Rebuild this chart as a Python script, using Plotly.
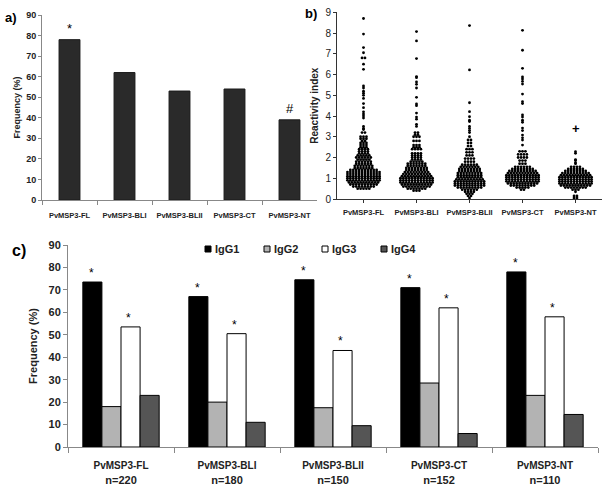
import plotly.graph_objects as go

W, H = 602, 488

# ---- data ----
antigens = ['PvMSP3-FL', 'PvMSP3-BLI', 'PvMSP3-BLII', 'PvMSP3-CT', 'PvMSP3-NT']

# a) total IgG frequency (%)
freq_total = [78, 62, 53, 54, 39]
freq_marks = ['*', '', '', '', '#']

# b) reactivity index: row value and number of dots on that row
fl_y = [0.5, 0.6, 0.7, 0.8, 0.9, 1.0, 1.1, 1.2, 1.3, 1.4, 1.5, 1.6, 1.7, 1.8, 1.9, 2.0, 2.1,
        2.2, 2.3, 2.4, 2.5, 2.6, 2.7, 2.8, 2.9, 3.0, 3.2, 3.35, 3.4, 3.5, 3.9, 4.0, 4.1, 4.2,
        4.4, 4.6, 4.85, 5.0, 5.1, 5.2, 5.35, 5.45, 6.25, 6.5, 6.8, 7.05, 7.3, 7.95, 8.7]
fl_n = [5, 8, 10, 11, 12, 12, 12, 12, 12, 10, 7, 7, 6, 6, 5, 6, 5,
        4, 4, 4, 3, 3, 3, 2, 3, 3, 2, 1, 1, 1, 1, 1, 1, 1,
        1, 1, 1, 1, 1, 1, 1, 1, 1, 1, 2, 1, 1, 1, 1]

bli_y = [0.4, 0.5, 0.6, 0.7, 0.8, 0.9, 1.0, 1.1, 1.2, 1.3, 1.4, 1.5, 1.6, 1.7, 1.8, 1.9, 2.0,
         2.1, 2.2, 2.4, 2.5, 2.6, 2.8, 3.0, 3.1, 3.2, 3.5, 3.6, 3.85, 3.95, 4.14, 4.5, 4.58,
         4.9, 5.35, 5.53, 5.64, 5.85, 5.9, 6.77, 7.62, 8.07]
bli_n = [3, 7, 10, 11, 12, 12, 12, 11, 10, 9, 8, 8, 7, 7, 5, 4, 4,
         4, 4, 4, 3, 3, 3, 3, 2, 2, 1, 1, 1, 1, 1, 1, 1,
         1, 1, 1, 1, 1, 1, 1, 1, 1]

blii_y = [0.05, 0.15, 0.25, 0.35, 0.45, 0.55, 0.65, 0.75, 0.85, 0.95, 1.05, 1.15, 1.25, 1.35,
          1.45, 1.55, 1.65, 1.8, 1.95, 2.1, 2.25, 2.4, 2.55, 2.7, 2.85, 3.0, 3.2, 3.3, 3.4,
          3.5, 3.73, 3.8, 3.97, 4.21, 4.64, 6.22, 8.36]
blii_n = [1, 2, 3, 4, 6, 9, 11, 11, 11, 10, 9, 9, 9, 8,
          8, 7, 6, 4, 4, 3, 3, 3, 2, 2, 2, 1, 1, 1, 1,
          1, 1, 1, 1, 1, 1, 1, 1]

ct_y = [0.45, 0.55, 0.65, 0.75, 0.85, 0.95, 1.05, 1.15, 1.25, 1.35, 1.45, 1.55, 1.7, 1.85,
        2.0, 2.15, 2.3, 2.6, 2.84, 2.95, 3.08, 3.3, 3.42, 3.7, 3.8, 3.95, 4.05, 4.6, 4.69,
        5.06, 5.54, 5.67, 5.79, 5.88, 6.3, 7.17, 8.13]
ct_n = [2, 5, 9, 11, 12, 12, 12, 12, 11, 10, 8, 6, 3, 3,
        4, 4, 3, 1, 1, 1, 1, 1, 1, 1, 1, 1, 1, 1, 1,
        1, 1, 1, 1, 1, 1, 1, 1]

nt_y = [0.05, 0.15, 0.35, 0.45, 0.55, 0.65, 0.75, 0.85, 0.95, 1.05, 1.15, 1.25, 1.35, 1.45,
        1.55, 1.7, 1.75, 1.85, 1.9, 2.2, 2.28]
nt_n = [2, 2, 1, 3, 8, 11, 12, 12, 12, 12, 11, 10, 8, 6,
        4, 1, 1, 1, 1, 1, 1]
nt_mark_y = 3.4

# c) IgG subclass frequency (%)
sample_sizes = [220, 180, 150, 152, 110]
subclasses = ['IgG1', 'IgG2', 'IgG3', 'IgG4']
igg1 = [73.5, 67, 74.5, 71, 78]
igg2 = [18, 20, 17.5, 28.5, 23]
igg3 = [53.5, 50.5, 43, 62, 58]
igg4 = [23, 11, 9.5, 6, 14.5]
sub_colors = ['black', '#b3b3b3', 'white', '#555555']


def py(p):
    return 1 - p / H


def swarm(center, ys, ns, step=0.055):
    xs, yv = [], []
    for y, n in zip(ys, ns):
        for i in range(n):
            xs.append(center + (i - (n - 1) / 2) * step)
            yv.append(y)
    return xs, yv


fig = go.Figure()

# a)
fig.add_trace(go.Bar(x=antigens, y=freq_total, marker_color='#2a2a2a',
                     marker_line=dict(color='#1a1a1a', width=1), width=0.38,
                     xaxis='x', yaxis='y', showlegend=False))

# b)
groups = [(fl_y, fl_n), (bli_y, bli_n), (blii_y, blii_n), (ct_y, ct_n), (nt_y, nt_n)]
for k, (ys, ns) in enumerate(groups):
    xs, yv = swarm(k, ys, ns)
    fig.add_trace(go.Scatter(x=xs, y=yv, mode='markers',
                             marker=dict(color='black', size=2.8),
                             xaxis='x2', yaxis='y2', showlegend=False))

# c)
labels_c = [f'<span style="font-size:10px">{a}</span><br>n={n}'
            for a, n in zip(antigens, sample_sizes)]
for name, vals, col in zip(subclasses, [igg1, igg2, igg3, igg4], sub_colors):
    fig.add_trace(go.Bar(x=labels_c, y=vals, name=name, marker_color=col,
                         marker_line=dict(color='black', width=1),
                         xaxis='x3', yaxis='y3', showlegend=False))

ann = []
shapes = []
for a, v, m in zip(antigens, freq_total, freq_marks):
    if m:
        ann.append(dict(x=a, y=v, xref='x', yref='y', text=m, showarrow=False,
                        yanchor='bottom', yshift=2, font=dict(size=13, color='black')))
ann.append(dict(x=4, y=nt_mark_y, xref='x2', yref='y2', text='<b>+</b>', showarrow=False,
                font=dict(size=13, color='black')))
for lab, v1, v3 in zip(labels_c, igg1, igg3):
    ann.append(dict(x=lab, y=v1, xref='x3', yref='y3', text='*', showarrow=False,
                    yanchor='bottom', yshift=0, xshift=-30, font=dict(size=12, color='black')))
    ann.append(dict(x=lab, y=v3, xref='x3', yref='y3', text='*', showarrow=False,
                    yanchor='bottom', yshift=0, xshift=7, font=dict(size=12, color='black')))
for t, x, y, s in [('a)', 3, 8, 13), ('b)', 303, 4, 13), ('c)', 10, 240, 16)]:
    ann.append(dict(x=x / W, y=py(y), xref='paper', yref='paper', text=f'<b>{t}</b>',
                    showarrow=False, xanchor='left', yanchor='top',
                    font=dict(size=s, color='black')))

# legend of panel c, drawn as small boxes + labels
for name, col, bx in zip(subclasses, sub_colors, [205, 264, 322, 381]):
    shapes.append(dict(type='rect', xref='paper', yref='paper',
                       x0=bx / W, x1=(bx + 6) / W, y0=py(252), y1=py(246),
                       fillcolor=col, line=dict(color='black', width=1)))
    ann.append(dict(x=(bx + 8) / W, y=py(249), xref='paper', yref='paper',
                    text=f'<b>{name}</b>', showarrow=False, xanchor='left', yanchor='middle',
                    font=dict(family='Arial', size=11, color='#222')))

fig.update_layout(
    width=W, height=H, margin=dict(l=0, r=0, t=0, b=0, autoexpand=False),
    paper_bgcolor='white', plot_bgcolor='white',
    font=dict(family='Arial', color='#222'),
    barmode='group', bargap=0.28, bargroupgap=0,
    xaxis=dict(domain=[42 / W, 317 / W], anchor='y', showline=True, linecolor='#888',
               ticks='outside', tickson='boundaries', ticklen=4, tickcolor='#888',
               tickangle=0, automargin=False, ticklabelstandoff=8,
               tickfont=dict(family='Arial', size=7.5, color='#222', weight='bold'),
               showgrid=False),
    yaxis=dict(domain=[py(200), py(15)], anchor='x', range=[0, 90], dtick=10,
               showline=True, linecolor='#888', ticks='outside', ticklen=3, tickcolor='#888',
               automargin=False,
               tickfont=dict(family='Arial', size=9, color='#222', weight='bold'),
               showgrid=False,
               title=dict(text='<b>Frequency (%)</b>', font=dict(size=9), standoff=4)),
    xaxis2=dict(domain=[337 / W, 1.0], anchor='y2', range=[-0.5, 4.5],
                tickvals=list(range(5)), ticktext=antigens, showline=True, linecolor='#333',
                ticks='outside', ticklen=3, tickcolor='#333', zeroline=False,
                tickangle=0, automargin=False, ticklabelstandoff=3,
                tickfont=dict(family='Arial', size=7.5, color='#222', weight='bold'),
                showgrid=False),
    yaxis2=dict(domain=[py(199), py(12.3)], anchor='x2', range=[0, 9], dtick=1,
                showline=True, linecolor='#333', ticks='outside', ticklen=3, tickcolor='#333',
                zeroline=False, automargin=False,
                tickfont=dict(family='Arial', size=10, color='#222'),
                showgrid=False,
                title=dict(text='<b>Reactivity index</b>', font=dict(size=10), standoff=4)),
    xaxis3=dict(domain=[68 / W, 598 / W], anchor='y3', showline=True, linecolor='#888',
                ticks='outside', tickson='boundaries', ticklen=5, tickcolor='#888',
                tickangle=0, automargin=False, ticklabelstandoff=8,
                tickfont=dict(family='Arial', size=11, color='#222', weight='bold'),
                showgrid=False),
    yaxis3=dict(domain=[py(447), py(245)], anchor='x3', range=[0, 90], dtick=10,
                showline=True, linecolor='#888', ticks='outside', ticklen=4, tickcolor='#888',
                automargin=False,
                tickfont=dict(family='Arial', size=11, color='#222', weight='bold'),
                showgrid=False,
                title=dict(text='<b>Frequency (%)</b>', font=dict(size=11), standoff=8)),
    shapes=shapes,
    annotations=ann,
)

fig.write_html('out.html', config={'displayModeBar': False},
               post_script="document.body.style.margin='0';")
